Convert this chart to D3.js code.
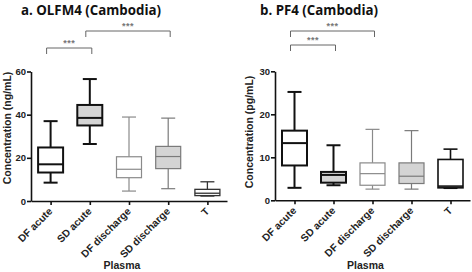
<!DOCTYPE html>
<html>
<head>
<meta charset="utf-8">
<script src="https://cdn.jsdelivr.net/npm/d3@7"></script>
<style>
  html, body { margin: 0; padding: 0; background: #fff; }
  svg { display: block; }
</style>
</head>
<body>
<svg id="chart" width="472" height="272"></svg>
<script>
const categories = ['DF acute', 'SD acute', 'DF discharge', 'SD discharge', 'T'];

// OLFM4 (ng/mL)
const olfm4Min    = [8.5, 26.4, 4.6, 5.7, 2.3];
const olfm4Q1     = [13.2, 35.0, 10.8, 15.0, 2.5];
const olfm4Median = [17.0, 38.5, 14.7, 20.6, 3.6];
const olfm4Q3     = [24.8, 44.5, 20.5, 25.3, 5.4];
const olfm4Max    = [37.0, 56.5, 38.9, 38.4, 8.9];
const olfm4Ticks  = [0, 20, 40, 60];
const olfm4Sig    = [['DF acute', 'SD acute', '***'], ['SD acute', 'SD discharge', '***']];

// PF4 (pg/mL)
const pf4Min    = [2.9, 3.5, 2.6, 2.6, 2.8];
const pf4Q1     = [8.1, 4.1, 3.5, 3.9, 2.9];
const pf4Median = [13.3, 5.9, 6.2, 5.6, 3.3];
const pf4Q3     = [16.2, 6.6, 8.7, 8.7, 9.5];
const pf4Max    = [25.2, 12.8, 16.5, 16.2, 11.9];
const pf4Ticks  = [0, 10, 20, 30];
const pf4Sig    = [['DF acute', 'SD acute', '***'], ['DF acute', 'DF discharge', '***']];

// box styling per category
const boxStroke = { 'DF acute': '#111', 'SD acute': '#111', 'DF discharge': '#8a8a8a', 'SD discharge': '#7a7a7a' };
const boxFill   = { 'DF acute': '#fff', 'SD acute': '#d4d4d4', 'DF discharge': '#fff', 'SD discharge': '#d4d4d4', 'T': '#fff' };
const boxWidth  = { 'DF acute': 2, 'SD acute': 2, 'DF discharge': 1.2, 'SD discharge': 1.2 };

const svg = d3.select('#chart');
const FONT = 'Liberation Sans, Arial, sans-serif';

function panel(opt) {
  const rows = categories.map((c, i) => ({
    cat: c, min: opt.min[i], q1: opt.q1[i], med: opt.med[i], q3: opt.q3[i], max: opt.max[i]
  }));
  const x = d3.scalePoint().domain(categories).range([opt.x0, opt.x1]).padding(0.5);
  const y = d3.scaleLinear().domain([0, d3.max(opt.ticks)]).range([opt.yb, opt.yt]);
  const g = svg.append('g');

  g.append('text').attr('x', opt.titleX).attr('y', 15)
    .attr('font-family', 'Open Sans, sans-serif').attr('font-weight', 700).attr('font-size', 13.3)
    .attr('fill', '#111').text(opt.title);

  // y axis
  const ya = g.append('g').attr('transform', `translate(${opt.x0},0)`)
    .call(d3.axisLeft(y).tickValues(opt.ticks).tickSize(4).tickSizeOuter(0));
  ya.select('.domain').attr('stroke', '#111').attr('stroke-width', 1.6);
  ya.selectAll('.tick line').attr('stroke', '#111').attr('stroke-width', 1.6);
  ya.selectAll('.tick text').attr('font-family', FONT).attr('font-weight', 700)
    .attr('font-size', 9.5).attr('fill', '#222').attr('x', -5);

  // x axis
  const xa = g.append('g').attr('transform', `translate(0,${opt.yb})`)
    .call(d3.axisBottom(x).tickSize(4).tickSizeOuter(0));
  xa.select('.domain').attr('stroke', '#111').attr('stroke-width', 1.6);
  xa.selectAll('.tick line').attr('stroke', '#111').attr('stroke-width', 1.6);
  xa.selectAll('.tick text').attr('font-family', FONT).attr('font-weight', 700)
    .attr('font-size', 10.3).attr('fill', '#222')
    .attr('text-anchor', 'end').attr('dy', 0).attr('y', 0)
    .attr('transform', 'translate(2,11) rotate(-45)');

  g.append('text').attr('x', (opt.x0 + opt.x1) / 2 - 7).attr('y', 268.5)
    .attr('text-anchor', 'middle').attr('font-family', FONT).attr('font-weight', 700)
    .attr('font-size', 10.5).attr('fill', '#222').text('Plasma');

  g.append('text').attr('transform', `translate(${opt.x0 - opt.ylabelDx},${opt.ylabelY}) rotate(-90)`)
    .attr('text-anchor', 'middle').attr('font-family', FONT).attr('font-weight', 700)
    .attr('font-size', 10.5).attr('fill', '#222').text(opt.ylabel);

  // boxes
  const bw = 25, cw = 14;
  rows.forEach(d => {
    const cx = x(d.cat);
    const st = d.cat === 'T' ? opt.tStroke : boxStroke[d.cat];
    const sw = d.cat === 'T' ? opt.tWidth : boxWidth[d.cat];
    const b = g.append('g').attr('stroke', st).attr('stroke-width', sw).attr('fill', 'none');
    b.append('line').attr('x1', cx).attr('x2', cx).attr('y1', y(d.max)).attr('y2', y(d.q3));
    b.append('line').attr('x1', cx).attr('x2', cx).attr('y1', y(d.q1)).attr('y2', y(d.min));
    b.append('line').attr('x1', cx - cw / 2).attr('x2', cx + cw / 2).attr('y1', y(d.max)).attr('y2', y(d.max));
    b.append('line').attr('x1', cx - cw / 2).attr('x2', cx + cw / 2).attr('y1', y(d.min)).attr('y2', y(d.min));
    b.append('rect').attr('x', cx - bw / 2).attr('width', bw)
      .attr('y', y(d.q3)).attr('height', y(d.q1) - y(d.q3)).attr('fill', boxFill[d.cat]);
    b.append('line').attr('x1', cx - bw / 2).attr('x2', cx + bw / 2).attr('y1', y(d.med)).attr('y2', y(d.med));
  });

  // significance brackets
  opt.sig.forEach((s, i) => {
    const xa1 = x(s[0]) - 4, xa2 = x(s[1]) + 2;
    const yl = opt.sigY[i], drop = 6;
    g.append('path').attr('d', `M${xa1},${yl + drop}V${yl}H${xa2}V${yl + drop}`)
      .attr('fill', 'none').attr('stroke', '#666').attr('stroke-width', 1);
    g.append('text').attr('x', (xa1 + xa2) / 2).attr('y', yl - 2).attr('text-anchor', 'middle')
      .attr('font-family', FONT).attr('font-weight', 700).attr('font-size', 9)
      .attr('letter-spacing', 0.5).attr('fill', '#777').text(s[2]);
  });
}

panel({
  title: 'a. OLFM4 (Cambodia)', titleX: 21, ylabel: 'Concentration (ng/mL)', ylabelY: 128, ylabelDx: 20,
  x0: 31, x1: 227, yb: 201, yt: 71.5, ticks: olfm4Ticks,
  min: olfm4Min, q1: olfm4Q1, med: olfm4Median, q3: olfm4Q3, max: olfm4Max,
  sig: olfm4Sig, sigY: [48, 31], tStroke: '#333', tWidth: 1.3
});

panel({
  title: 'b. PF4 (Cambodia)', titleX: 260, ylabel: 'Concentration (pg/mL)', ylabelY: 132, ylabelDx: 22,
  x0: 275, x1: 470, yb: 200.3, yt: 71.3, ticks: pf4Ticks,
  min: pf4Min, q1: pf4Q1, med: pf4Median, q3: pf4Q3, max: pf4Max,
  sig: pf4Sig, sigY: [45, 31], tStroke: '#111', tWidth: 1.6
});
</script>
</body>
</html>
